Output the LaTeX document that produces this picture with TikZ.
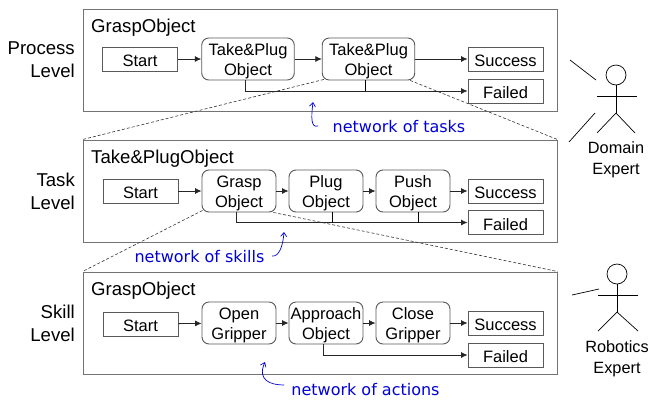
\documentclass[tikz,border=0pt]{standalone}
\usepackage{fontspec}
\setmainfont{Liberation Sans}
\newfontfamily\handfont{DejaVu Sans}
\usetikzlibrary{arrows.meta}
\newcommand\lowstrut{\rule{0pt}{16pt}}
\tikzset{
  frame/.style={draw=black!55,line width=1pt,fill=white,inner sep=0pt},
  rectbox/.style={draw=black!65,line width=0.9pt,fill=white,inner sep=0pt,minimum width=75pt,minimum height=24pt,align=center,font=\fontsize{16.5}{20}\selectfont},
  actbox/.style={draw=black!65,line width=0.9pt,fill=white,inner sep=0pt,rounded corners=7pt,minimum width=74pt,minimum height=42pt,align=center,font=\fontsize{16.5}{20.5}\selectfont},
  titletext/.style={inner sep=0pt,anchor=west,font=\fontsize{18.6}{22}\selectfont},
  leveltext/.style={inner sep=0pt,align=right,anchor=east,font=\fontsize{18.6}{23}\selectfont},
  experttext/.style={inner sep=0pt,align=center,font=\fontsize{16.3}{21}\selectfont},
  handtext/.style={inner sep=0pt,text=blue!85!black,font=\handfont\fontsize{16}{18}\selectfont},
  arr/.style={draw=black!85,line width=0.8pt,-{Latex[length=6.5pt,width=6pt]}},
  tick/.style={draw=black,line width=0.8pt},
  zoomline/.style={draw=black!80,line width=0.6pt,dash pattern=on 3pt off 2pt},
  person/.style={draw=black,line width=0.7pt},
  bluecurve/.style={draw=blue!85!black,line width=0.7pt,-{Straight Barb[length=4pt,width=6pt]}}
}
\begin{document}
\begin{tikzpicture}[x=1pt,y=-1pt]
\useasboundingbox (0,0) rectangle (648,400);
% frames
\node[frame,minimum width=474pt,minimum height=102pt] (procF) at (320,60) {};
\node[frame,minimum width=474pt,minimum height=102pt] (taskF) at (320,191) {};
\node[frame,minimum width=474pt,minimum height=102pt] (skillF) at (320,323) {};
\node[titletext] (procT) at (91,27.5) {GraspObject};
\node[titletext] (taskT) at (91,159) {Take\&PlugObject};
\node[titletext] (skillT) at (91,290.5) {GraspObject};
\node[leveltext] (procL) at (75,60) {Process\\Level};
\node[leveltext] (taskL) at (75,191.5) {Task\\Level};
\node[leveltext] (skillL) at (75,323.5) {Skill\\Level};
% process level
\node[rectbox] (pS) at (140,59) {\lowstrut Start};
\node[actbox,minimum width=92.5pt] (p1) at (248,59) {\lowstrut Take\&Plug\\Object};
\node[actbox,minimum width=92.5pt] (p2) at (368.5,59) {\lowstrut Take\&Plug\\Object};
\node[rectbox] (pOk) at (505.5,59) {\lowstrut Success};
\node[rectbox] (pNo) at (505.5,91) {\lowstrut Failed};
\draw[arr] (pS) -- (p1);
\draw[arr] (p1) -- (p2);
\draw[arr] (p2) -- (pOk);
\draw[arr] ([xshift=-3pt]p1.south) |- (pNo.west);
\draw[tick] ([xshift=-3pt]p2.south) -- ([xshift=-3pt]p2.south |- pNo.west);
% task level
\node[rectbox] (tS) at (140.5,191) {\lowstrut Start};
\node[actbox] (t1) at (239,191) {\lowstrut Grasp\\Object};
\node[actbox] (t2) at (326,191) {\lowstrut Plug\\Object};
\node[actbox] (t3) at (413,191) {\lowstrut Push\\Object};
\node[rectbox] (tOk) at (505.5,191) {\lowstrut Success};
\node[rectbox] (tNo) at (505.5,222.5) {\lowstrut Failed};
\draw[arr] (tS) -- (t1);
\draw[arr] (t1) -- (t2);
\draw[arr] (t2) -- (t3);
\draw[arr] (t3) -- (tOk);
\draw[arr] ([xshift=-3pt]t1.south) |- (tNo.west);
\draw[tick] ([xshift=6pt]t2.south) -- ([xshift=6pt]t2.south |- tNo.west);
\draw[tick] ([xshift=5pt]t3.south) -- ([xshift=5pt]t3.south |- tNo.west);
% skill level
\node[rectbox] (sS) at (140.5,324) {\lowstrut Start};
\node[actbox] (s1) at (239,323) {\lowstrut Open\\Gripper};
\node[actbox] (s2) at (326,323) {\lowstrut Approach\\Object};
\node[actbox] (s3) at (413,323) {\lowstrut Close\\Gripper};
\node[rectbox] (sOk) at (505.5,323) {\lowstrut Success};
\node[rectbox] (sNo) at (505.5,355) {\lowstrut Failed};
\draw[arr] (sS) -- (s1);
\draw[arr] (s1) -- (s2);
\draw[arr] (s2) -- (s3);
\draw[arr] (s3) -- (sOk);
\draw[arr] ([xshift=-3pt]s2.south) |- (sNo.west);
% zoom lines
\draw[zoomline] ([shift={(2,-1)}]p2.south west) -- (taskF.north west);
\draw[zoomline] ([shift={(-5,0)}]p2.south east) -- (taskF.north east);
\draw[zoomline] ([shift={(1,-2)}]t1.south west) -- (skillF.north west);
\draw[zoomline] ([shift={(-3,0)}]t1.south east) -- (skillF.north east);
% hand-written labels
\node[handtext] (nT) at (399,127) {network of tasks};
\node[handtext] (nS) at (199.5,257) {network of skills};
\node[handtext] (nA) at (365.5,390) {network of actions};
\draw[bluecurve] (318,126) .. controls (311,128) and (311,118) .. (313,102);
\draw[bluecurve] (272,256) .. controls (279,257) and (283,246) .. (284,232);
\draw[bluecurve] (284,385) .. controls (270,385) and (257,380) .. (265,362);
% domain expert
\coordinate (dH) at (616,75);
\node[draw=black,line width=0.7pt,circle,minimum size=20pt,inner sep=0pt] (dHead) at (dH) {};
\coordinate (dHip) at (616,113);
\draw[person] (dHead.south) -- (dHip);
\draw[person] (597,96) -- (637,96);
\draw[person] (597,133) -- (dHip) -- (635,133);
\draw[person] (570,60) -- (596,80);
\draw[person] (569,142) -- (595,113);
\node[experttext] (dT) at (616,159.5) {Domain\\Expert};
% robotics expert
\coordinate (rH) at (617,274);
\node[draw=black,line width=0.7pt,circle,minimum size=20pt,inner sep=0pt] (rHead) at (rH) {};
\coordinate (rHip) at (617,312);
\draw[person] (rHead.south) -- (rHip);
\draw[person] (598,295) -- (638,295);
\draw[person] (598,331) -- (rHip) -- (638,331);
\draw[person] (572,295) -- (599,289);
\node[experttext] (rT) at (617,359) {Robotics\\Expert};
\end{tikzpicture}
\end{document}
